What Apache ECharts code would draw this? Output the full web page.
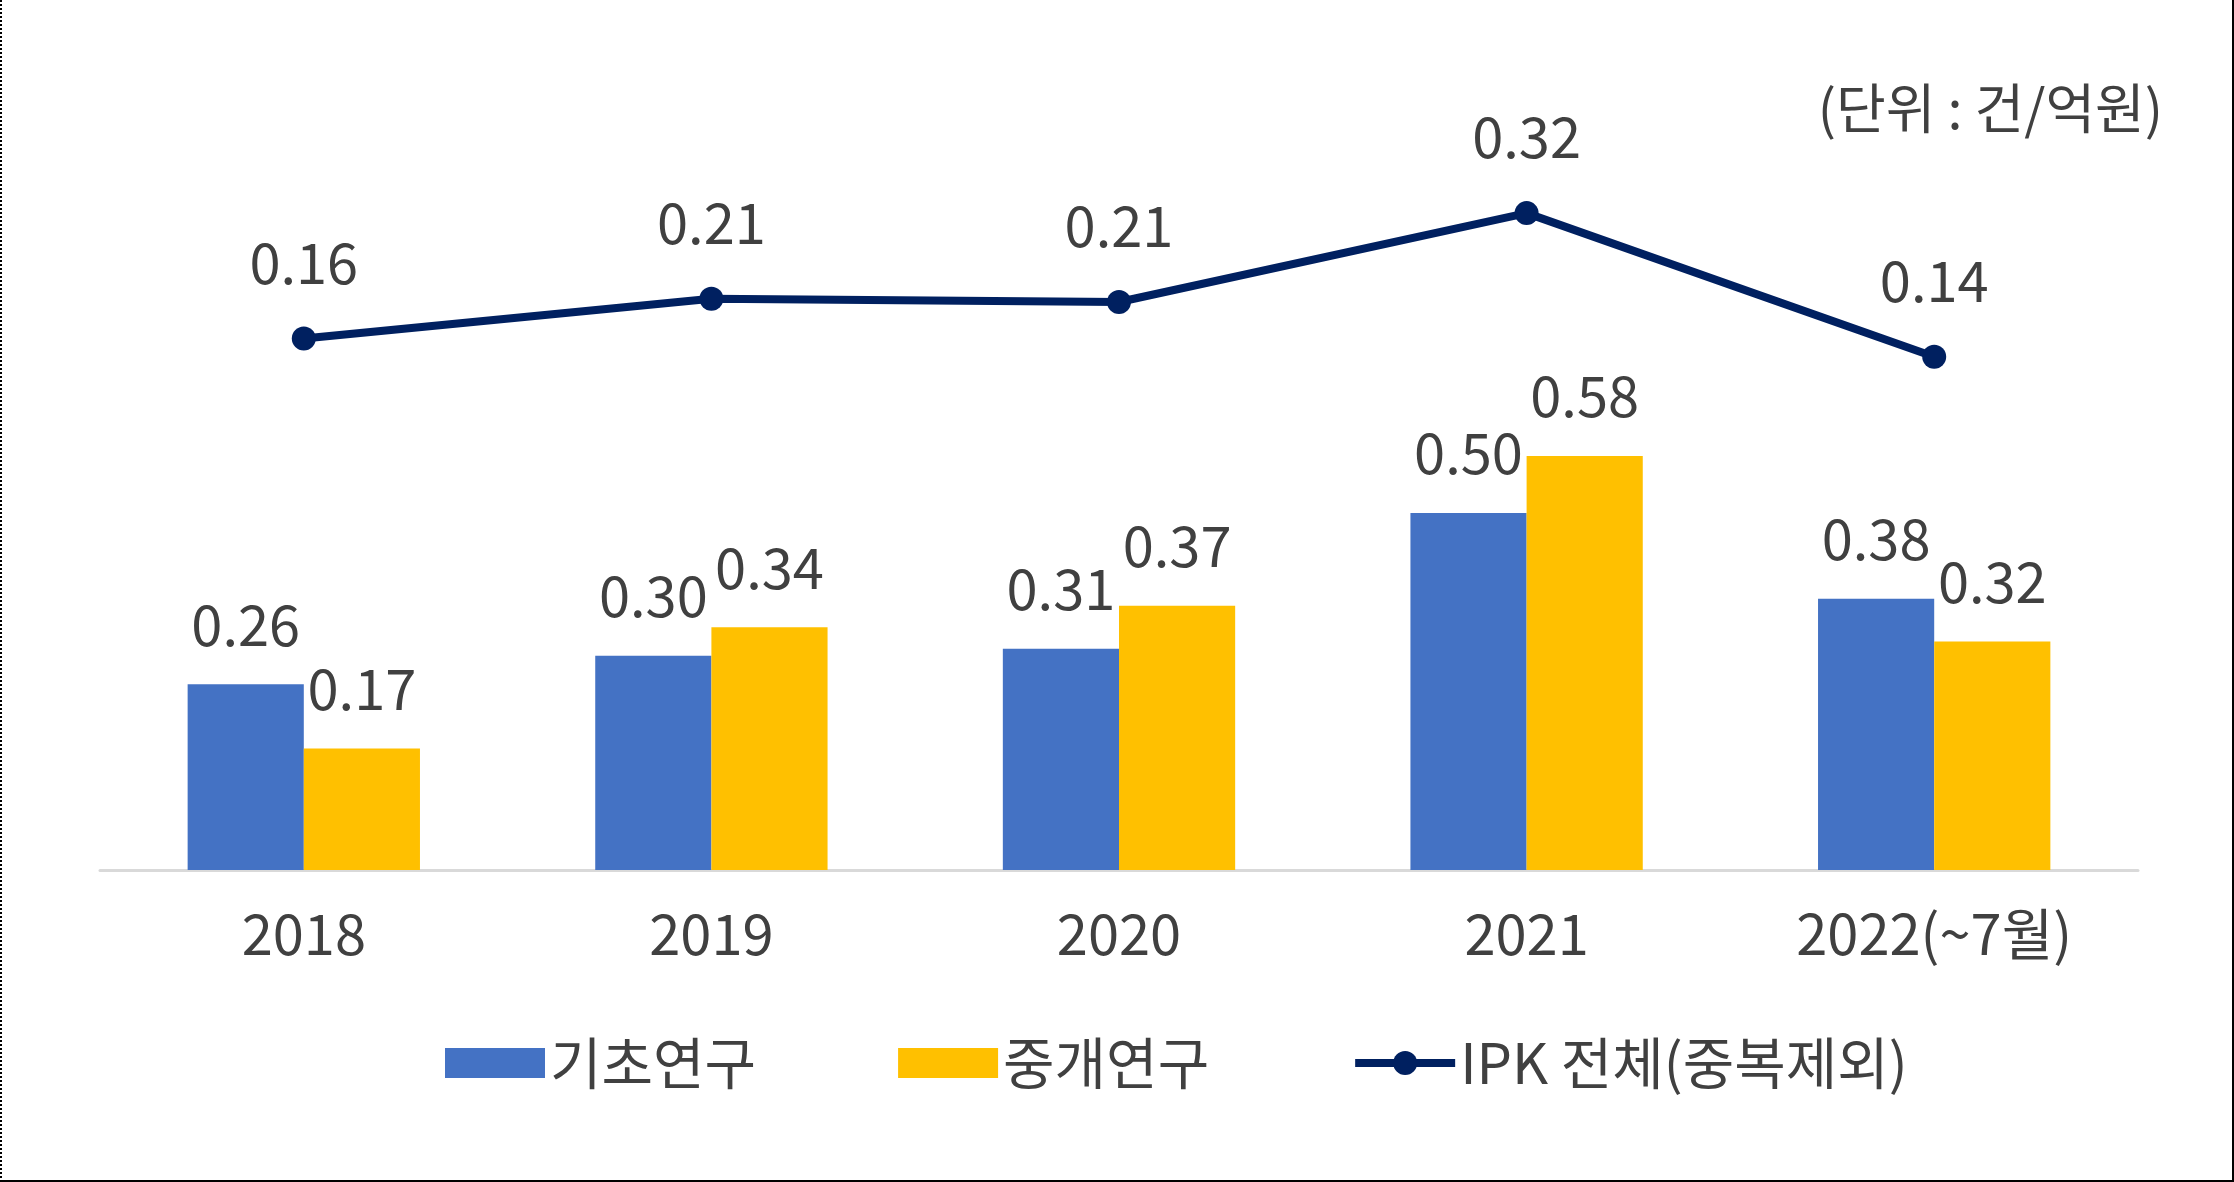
<!DOCTYPE html>
<html>
<head>
<meta charset="utf-8">
<script src="https://cdn.jsdelivr.net/npm/echarts@6/dist/echarts.min.js"></script>
<style>
  html, body { margin: 0; padding: 0; background: #fff; }
  #chart { position: absolute; left: 0; top: 0; width: 2234px; height: 1182px; box-sizing: border-box;
           border-left: 2px dotted #000; border-right: 2px solid #000; border-bottom: 2px solid #000; }
</style>
</head>
<body>
<div id="chart"></div>
<script>
const categories = ['2018', '2019', '2020', '2021', '2022(~7월)'];
const basicResearch = [0.26, 0.30, 0.31, 0.50, 0.38];
const translationalResearch = [0.17, 0.34, 0.37, 0.58, 0.32];
const ipkTotal = [0.16, 0.21, 0.206, 0.318, 0.137];
const seriesNames = ['기초연구', '중개연구', 'IPK 전체(중복제외)'];
const unitText = '(단위 : 건/억원)';

const FONT = '"Noto Sans CJK KR", "Noto Sans", sans-serif';
const TXT = '#404040';

const chart = echarts.init(document.getElementById('chart'), null, { renderer: 'canvas' });
chart.setOption({
  animation: false,
  backgroundColor: '#fff',
  textStyle: { fontFamily: FONT, color: TXT },
  title: {
    text: unitText,
    right: 64, top: 76,
    textStyle: { fontFamily: FONT, fontSize: 54, fontWeight: 'normal', color: TXT }
  },
  grid: { left: 98, right: 94, top: 156, bottom: 310 },
  legend: {
    left: 438, top: 1030,
    itemWidth: 100, itemHeight: 30, itemGap: 142,
    lineStyle: { width: 8 },
    textStyle: { fontFamily: FONT, fontSize: 56, color: TXT },
    data: [
      { name: seriesNames[0], icon: 'rect' },
      { name: seriesNames[1], icon: 'rect' },
      { name: seriesNames[2] }
    ]
  },
  xAxis: {
    type: 'category',
    data: categories,
    axisTick: { show: false },
    axisLine: { lineStyle: { color: '#D9D9D9', width: 3 } },
    axisLabel: { fontFamily: FONT, fontSize: 56, color: TXT, margin: 36 }
  },
  yAxis: [
    { type: 'value', min: 0, max: 1, show: false, splitLine: { show: false } },
    { type: 'value', min: -0.51, max: 0.39, show: false, splitLine: { show: false } }
  ],
  series: [
    {
      name: seriesNames[0], type: 'bar', data: basicResearch,
      barGap: '0%', barCategoryGap: '43%',
      itemStyle: { color: '#4472C4' },
      label: { show: true, position: 'top', distance: 32, fontFamily: FONT, fontSize: 56, color: TXT,
               formatter: p => p.value.toFixed(2) }
    },
    {
      name: seriesNames[1], type: 'bar', data: translationalResearch,
      itemStyle: { color: '#FFC000' },
      label: { show: true, position: 'top', distance: 32, fontFamily: FONT, fontSize: 56, color: TXT,
               formatter: p => p.value.toFixed(2) }
    },
    {
      name: seriesNames[2], type: 'line', yAxisIndex: 1, data: ipkTotal,
      symbol: 'circle', symbolSize: 24,
      lineStyle: { color: '#002060', width: 8 },
      itemStyle: { color: '#002060' },
      label: { show: true, position: 'top', distance: 36, fontFamily: FONT, fontSize: 56, color: TXT,
               formatter: p => p.value.toFixed(2) }
    }
  ]
});
</script>
</body>
</html>
